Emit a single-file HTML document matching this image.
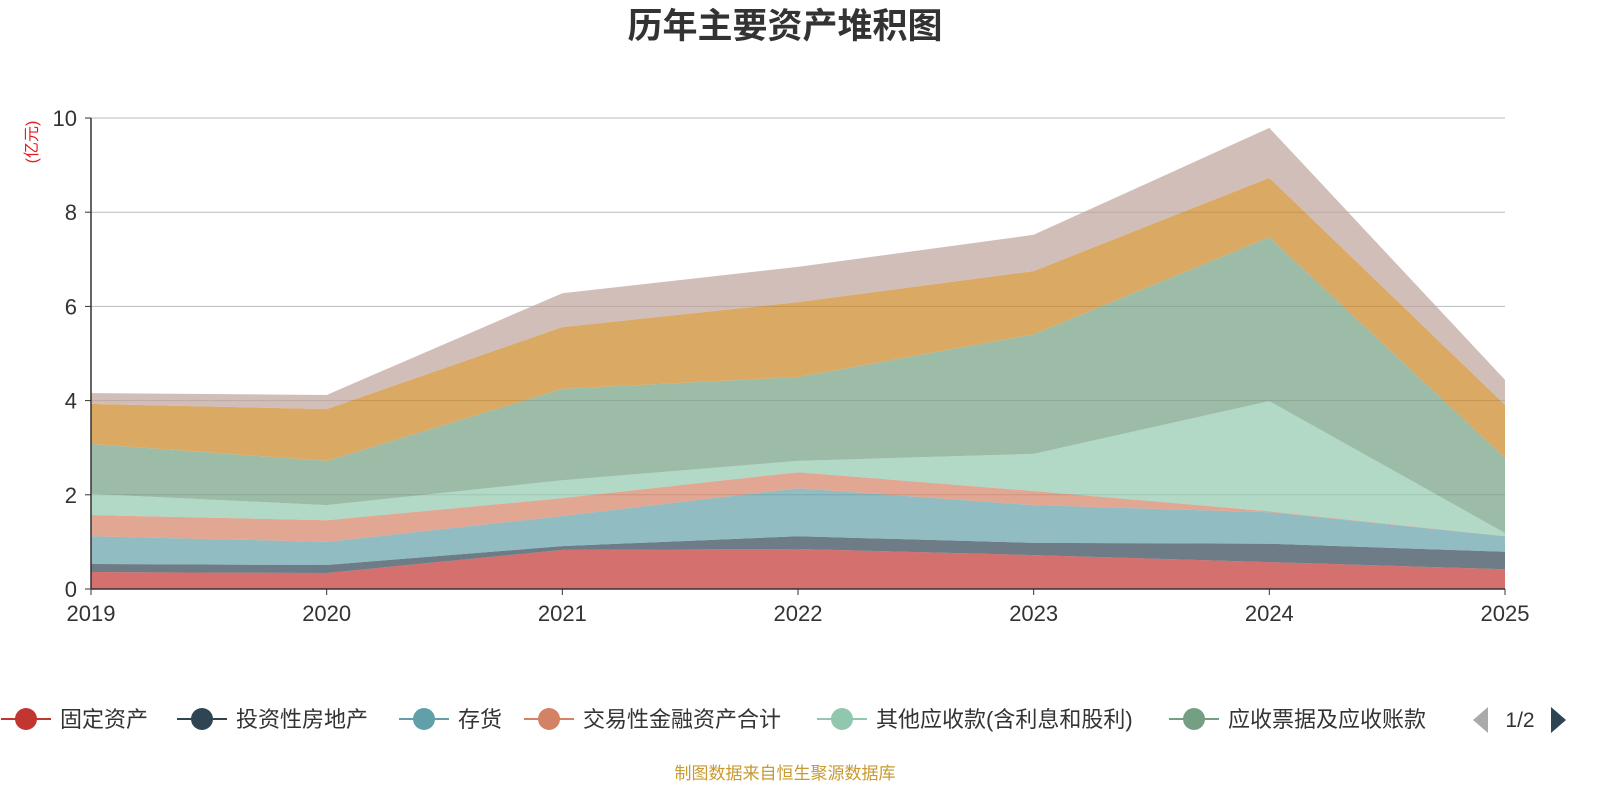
<!DOCTYPE html>
<html><head><meta charset="utf-8">
<style>
body{margin:0;width:1600px;height:800px;background:#fff;font-family:"Liberation Sans","Noto Sans CJK SC",sans-serif;overflow:hidden}
</style></head>
<body>
<svg id="chart" width="1600" height="800" xmlns="http://www.w3.org/2000/svg" font-family="Liberation Sans, Noto Sans CJK SC, sans-serif">
<text x="785" y="38" text-anchor="middle" font-size="35" font-weight="bold" fill="#333">历年主要资产堆积图</text>
<text transform="translate(37,142) rotate(-90)" text-anchor="middle" font-size="16" fill="#e02020">(亿元)</text>
<g id="grid"></g><g id="areas"></g><g id="axes"></g><g id="legend"></g>
<text x="785" y="779" text-anchor="middle" font-size="17" fill="#c89a30">制图数据来自恒生聚源数据库</text>
</svg>
<script>
const years=['2019','2020','2021','2022','2023','2024','2025'];
const yTicks=[0,2,4,6,8,10];
const seriesNames=['固定资产','投资性房地产','存货','交易性金融资产合计','其他应收款(含利息和股利)','应收票据及应收账款','货币资金','其他'];
const s1=[0.36,0.34,0.83,0.85,0.72,0.57,0.42];
const s2=[0.17,0.17,0.08,0.27,0.26,0.39,0.37];
const s3=[0.59,0.49,0.64,1.02,0.80,0.67,0.33];
const s4=[0.45,0.46,0.38,0.34,0.30,0.02,0.00];
const s5=[0.45,0.32,0.38,0.24,0.79,2.34,0.07];
const s6=[1.06,0.94,1.94,1.78,2.54,3.48,1.59];
const s7=[0.85,1.10,1.31,1.59,1.34,1.26,1.13];
const s8=[0.23,0.30,0.72,0.75,0.77,1.06,0.53];
const allSeries=[s1,s2,s3,s4,s5,s6,s7,s8];
const colors=['#c23531','#2f4554','#61a0a8','#d48265','#91c7ae','#749f83','#ca8622','#bda29a'];
const NS='http://www.w3.org/2000/svg';
const x0=91,x1=1505,yB=589,yT=118;
const X=i=>x0+(x1-x0)*i/(years.length-1);
const Y=v=>yB-(yB-yT)*v/10;
function mk(t,a,p){const e=document.createElementNS(NS,t);for(const k in a)e.setAttribute(k,a[k]);p.appendChild(e);return e;}
const grid=document.getElementById('grid'),axes=document.getElementById('axes'),areas=document.getElementById('areas'),legend=document.getElementById('legend');
yTicks.forEach(t=>{
 if(t>0){const l=mk('line',{x1:x0,x2:x1,y1:Y(t),y2:Y(t),stroke:'#bbb','stroke-width':1},grid);
 
 }
 const tx=mk('text',{x:x0-14,y:Y(t)+8,'text-anchor':'end','font-size':22,fill:'#333'},axes);tx.textContent=t;
 
 
 const tk=mk('line',{x1:x0-6,x2:x0,y1:Y(t),y2:Y(t),stroke:'#333'},axes);
 
 
});
let base=years.map(()=>0);
allSeries.forEach((s,k)=>{
 const top=base.map((b,i)=>b+s[i]);
 let d='M'+years.map((_,i)=>X(i)+','+Y(top[i])).join(' L');
 for(let i=years.length-1;i>=0;i--)d+=' L'+X(i)+','+Y(base[i]);
 const p=mk('path',{d:d+'Z',fill:colors[k],'fill-opacity':0.7},areas);
 
 
 base=top;
});
const ax=mk('line',{x1:x0,x2:x1,y1:yB,y2:yB,stroke:'#333','stroke-width':1.5},axes);


const ay=mk('line',{x1:x0,x2:x0,y1:yT,y2:yB,stroke:'#333','stroke-width':1.5},axes);


years.forEach((y,i)=>{
 const tk=mk('line',{x1:X(i),x2:X(i),y1:yB,y2:yB+6,stroke:'#333'},axes);
 
 
 const t=mk('text',{x:X(i),y:621,'text-anchor':'middle','font-size':22,fill:'#333'},axes);t.textContent=y;
 
 
});
const lx=[26,202,424,549,842,1194];
for(let k=0;k<6;k++){
 const g=mk('g',{},legend);
 
 
 mk('line',{x1:lx[k]-25,x2:lx[k]+25,y1:719,y2:719,stroke:colors[k],'stroke-width':2},g);
 mk('circle',{cx:lx[k],cy:719,r:11,fill:colors[k]},g);
 const t=mk('text',{x:lx[k]+34,y:727,'font-size':22,fill:'#333'},g);t.textContent=seriesNames[k];
}
const pl=mk('path',{d:'M1488,707 L1488,733 L1473,720Z',fill:'#aaa'},legend);


const pt=mk('text',{x:1520,y:727,'text-anchor':'middle','font-size':21,fill:'#333'},legend);pt.textContent='1/2';


const pn=mk('path',{d:'M1551,707 L1551,733 L1566,720Z',fill:'#2f4554'},legend);


</script>
</body></html>
